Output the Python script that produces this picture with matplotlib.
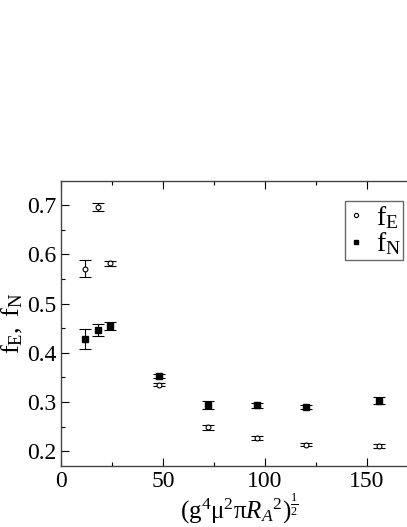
import numpy as np
import matplotlib
matplotlib.use('Agg')
import matplotlib.pyplot as plt
from matplotlib.ticker import MultipleLocator
from matplotlib.lines import Line2D

# Dados
x = [12, 18, 24, 48, 72, 96, 120, 156]
f_E = [0.571, 0.696, 0.582, 0.335, 0.249, 0.226, 0.213, 0.211]
f_E_err = [0.017, 0.008, 0.005, 0.003, 0.005, 0.004, 0.003, 0.004]
f_N = [0.428, 0.446, 0.454, 0.352, 0.294, 0.293, 0.289, 0.303]
f_N_err = [0.020, 0.012, 0.008, 0.004, 0.008, 0.005, 0.004, 0.007]

plt.rcParams['font.family'] = 'Liberation Serif'
plt.rcParams['mathtext.fontset'] = 'custom'
plt.rcParams['mathtext.rm'] = 'Liberation Serif'
plt.rcParams['mathtext.it'] = 'Liberation Serif:italic'

fig = plt.figure(figsize=(4.07, 5.27), dpi=100)
# eixo ultrapassa a borda direita da figura, como no original
ax = fig.add_axes([61 / 407, 1 - 466 / 527, 357 / 407, 285 / 527])

ax.errorbar(x, f_E, yerr=f_E_err, fmt='o', mfc='white', mec='black', ms=3.5,
            mew=0.8, ecolor='black', elinewidth=0.8, capsize=4, capthick=0.8)
ax.errorbar(x, f_N, yerr=f_N_err, fmt='s', mfc='black', mec='black', ms=4,
            ecolor='black', elinewidth=0.8, capsize=4, capthick=0.8)

ax.set_xlim(0, 175)
ax.set_ylim(0.17, 0.749)
ax.xaxis.set_major_locator(MultipleLocator(50))
ax.xaxis.set_minor_locator(MultipleLocator(25))
ax.yaxis.set_major_locator(MultipleLocator(0.1))
ax.yaxis.set_minor_locator(MultipleLocator(0.05))
ax.yaxis.set_major_formatter(plt.FuncFormatter(lambda v, p: f'{v:.1f}'))
ax.tick_params(which='both', direction='in', top=True, right=True, labelsize=17)
ax.tick_params(which='major', length=6, width=0.8)
ax.tick_params(which='minor', length=3, width=0.8)
for s in ax.spines.values():
    s.set_linewidth(1.0)
    s.set_color('#444444')

ax.set_xlabel(r'$(\mathrm{g}^4\mathrm{\mu}^2\mathrm{\pi} R_A{}^2)^{\mathrm{\frac{1}{2}}}$',
              fontsize=18, labelpad=0)
ax.set_ylabel(r'$\mathrm{f}_{\mathrm{E}}\mathrm{,\ f}_{\mathrm{N}}$', fontsize=19, labelpad=1)

handles = [
    Line2D([], [], ls='none', marker='o', mfc='white', mec='black', ms=3, mew=0.8),
    Line2D([], [], ls='none', marker='s', mfc='black', mec='black', ms=3.5),
]
leg = ax.legend(handles, [r'$\mathrm{f}_{\mathrm{E}}$', r'$\mathrm{f}_{\mathrm{N}}$'],
                loc='upper left', bbox_to_anchor=(284 / 357, 1 - 20 / 285),
                frameon=True, fancybox=False, edgecolor='#444444', fontsize=20,
                handlelength=0.6, handletextpad=0.4, borderpad=0.1,
                labelspacing=0.0, borderaxespad=0)
leg.get_frame().set_linewidth(1.0)

plt.savefig('out.png', dpi=100)
